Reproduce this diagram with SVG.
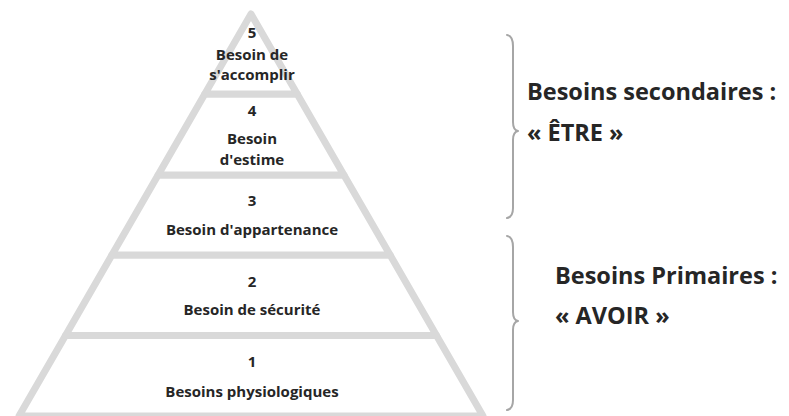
<svg xmlns="http://www.w3.org/2000/svg" width="789" height="416" viewBox="0 0 789 416">
<style>
.tier{fill:#ffffff;stroke:#d9d9d9;stroke-width:7;stroke-linejoin:round}
.t{font-family:"Open Sans","Liberation Sans",sans-serif;font-weight:bold;font-size:15px;fill:#262626;text-anchor:middle}
.big{font-family:"Open Sans","Liberation Sans",sans-serif;font-weight:bold;font-size:23.5px;fill:#262626}
.brace{fill:none;stroke:#a6a6a6;stroke-width:2;stroke-linecap:round;stroke-linejoin:round}
</style>
<rect width="789" height="416" fill="#ffffff"/>
<g id="tier1">
<polygon class="tier" points="65.5,335.5 436.5,335.5 483,416 19,416"/>
<text class="t" x="252" y="367">1</text>
<text class="t" x="252" y="397">Besoins physiologiques</text>
</g>
<g id="tier2">
<polygon class="tier" points="111.9,255 390.1,255 436.5,335.5 65.5,335.5"/>
<text class="t" x="252" y="287">2</text>
<text class="t" x="252" y="315">Besoin de sécurité</text>
</g>
<g id="tier3">
<polygon class="tier" points="158.1,175 343.9,175 390.1,255 111.9,255"/>
<text class="t" x="252" y="206">3</text>
<text class="t" x="252" y="235">Besoin d'appartenance</text>
</g>
<g id="tier4">
<polygon class="tier" points="204.8,94 297.2,94 343.9,175 158.1,175"/>
<text class="t" x="252" y="116">4</text>
<text class="t" x="252" y="144">Besoin</text>
<text class="t" x="252" y="165">d'estime</text>
</g>
<g id="tier5">
<polygon class="tier" points="251,14 297.2,94 204.8,94"/>
<text class="t" x="252" y="38">5</text>
<text class="t" x="252" y="60">Besoin de</text>
<text class="t" x="252" y="80">s'accomplir</text>
</g>
<g id="connectors">
<path class="brace" d="M507,35 Q513,36 513,46 L513,122 Q513,130 518,131 Q513,132 513,140 L513,208 Q513,217 507,218"/>
<path class="brace" d="M507,236 Q513,237 513,247 L513,312 Q513,320 518,321 Q513,322 513,330 L513,400 Q513,409 507,410"/>
</g>
<g id="label-secondaires">
<text class="big" x="527" y="100">Besoins secondaires :</text>
<text class="big" x="527" y="141">« ÊTRE »</text>
</g>
<g id="label-primaires">
<text class="big" x="555" y="284">Besoins Primaires :</text>
<text class="big" x="555" y="324">« AVOIR »</text>
</g>
</svg>
